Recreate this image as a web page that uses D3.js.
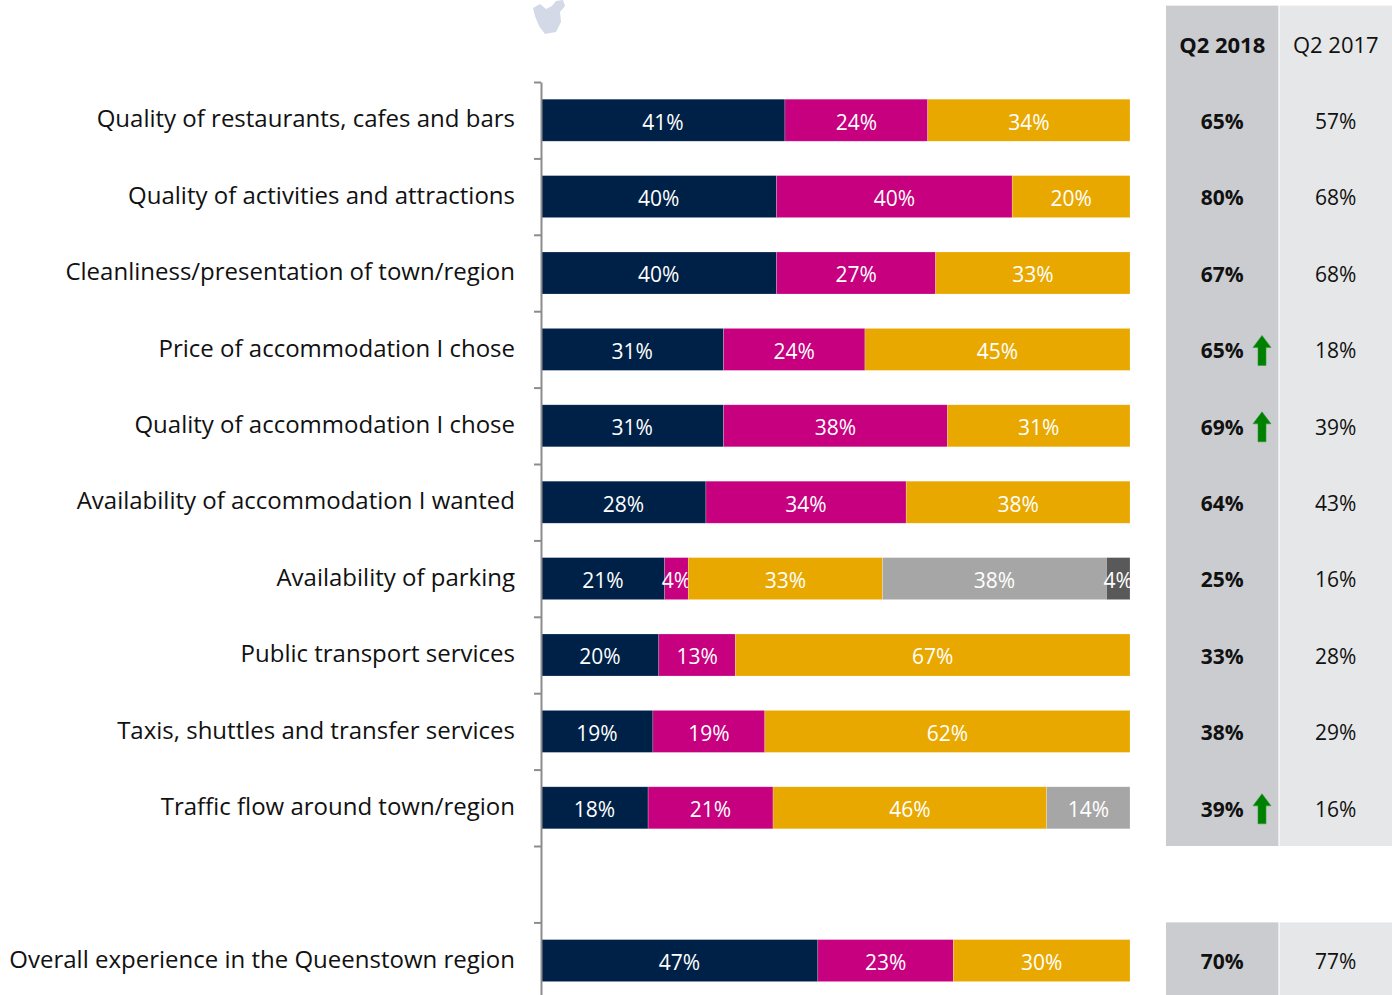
<!DOCTYPE html>
<html>
<head>
<meta charset="utf-8">
<script src="https://cdn.jsdelivr.net/npm/d3@7"></script>
<style>
  body { margin: 0; background: #fff; }
  svg text { font-family: "Open Sans", "Noto Sans", sans-serif; }
</style>
</head>
<body>
<div id="chart"></div>
<script>
// row labels (blank row is the gap before the overall score)
var categories = [
  "Quality of restaurants, cafes and bars",
  "Quality of activities and attractions",
  "Cleanliness/presentation of town/region",
  "Price of accommodation I chose",
  "Quality of accommodation I chose",
  "Availability of accommodation I wanted",
  "Availability of parking",
  "Public transport services",
  "Taxis, shuttles and transfer services",
  "Traffic flow around town/region",
  "",
  "Overall experience in the Queenstown region"
]

// stacked segments, left to right (null = blank row)
var seg1 = [41, 40, 40, 31, 31, 28, 21, 20, 19, 18, null, 47]
var seg2 = [24, 40, 27, 24, 38, 34, 4, 13, 19, 21, null, 23]
var seg3 = [34, 20, 33, 45, 31, 38, 33, 67, 62, 46, null, 30]
var seg4 = [0, 0, 0, 0, 0, 0, 38, 0, 0, 14, null, 0]
var seg5 = [0, 0, 0, 0, 0, 0, 4, 0, 0, 0, null, 0]

var periods = ["Q2 2018", "Q2 2017"]
var q2018 = [65, 80, 67, 65, 69, 64, 25, 33, 38, 39, null, 70]
var q2017 = [57, 68, 68, 18, 39, 43, 16, 28, 29, 16, null, 77]
var upArrow = [false, false, false, true, true, false, false, false, false, true, null, false]

var segColors = ["#002147", "#c6007e", "#e8a800", "#a6a6a6", "#595959"]

var W = 1392, H = 995

var svg = d3.select('#chart').append('svg')
  .attr('width', W).attr('height', H)

var keys = ["s1", "s2", "s3", "s4", "s5"]
var rows = categories.map(function(c, i) {
  return {id: i, name: c, s1: seg1[i] || 0, s2: seg2[i] || 0, s3: seg3[i] || 0, s4: seg4[i] || 0, s5: seg5[i] || 0, blank: seg1[i] == null}
})

var topY = 82, step = 76.4
var y = d3.scaleBand()
  .domain(rows.map(function(d) { return d.id; }))
  .range([topY, topY + step * rows.length])
  .paddingInner(0.45)
  .paddingOuter(0.225)

var x = d3.scaleLinear().domain([0, 1]).range([541, 1130])

// background panels for the comparison columns
var colX = d3.scaleBand().domain(periods).range([1166, 1392]).paddingInner(0.01)
var panelFill = ["#cbccd0", "#e6e7e8"]
periods.forEach(function(p, j) {
  svg.append('rect')
    .attr('x', colX(p)).attr('width', colX.bandwidth())
    .attr('y', topY - step).attr('height', step * 11)
    .attr('fill', panelFill[j])
  svg.append('rect')
    .attr('x', colX(p)).attr('width', colX.bandwidth())
    .attr('y', topY + step * 11).attr('height', H - (topY + step * 11))
    .attr('fill', panelFill[j])
  svg.append('text')
    .attr('x', colX(p) + colX.bandwidth() / 2)
    .attr('y', topY - step / 2)
    .attr('dy', '.4em')
    .attr('text-anchor', 'middle')
    .attr('font-size', 22)
    .attr('font-weight', j == 0 ? 'bold' : 'normal')
    .attr('fill', '#111')
    .text(p)
})

// faint logo fragment at the top
svg.append('path')
  .attr('d', 'M533,8 L540,4 L546,9 L552,6 L556,1 L563,0 L565,6 L560,12 L561,22 L556,32 L545,34 L539,26 L535,16 Z')
  .attr('fill', '#d3d9e6')

// stacked bars
var stack = d3.stack().keys(keys).offset(d3.stackOffsetExpand)
var series = stack(rows.filter(function(d) { return !d.blank; }))

var layer = svg.selectAll('.layer')
  .data(series)
  .enter().append('g')
  .attr('class', 'layer')
  .attr('fill', function(d, i) { return segColors[i]; })

layer.selectAll('rect')
  .data(function(d) { return d; })
  .enter().append('rect')
  .attr('x', function(d) { return x(d[0]); })
  .attr('width', function(d) { return x(d[1]) - x(d[0]); })
  .attr('y', function(d) { return y(d.data.id); })
  .attr('height', y.bandwidth())
  .attr('stroke', '#ffffff')
  .attr('stroke-opacity', 0.35)
  .attr('stroke-width', 0.6)

layer.selectAll('text')
  .data(function(d) { return d.filter(function(e) { return e.data[d.key] > 0; }).map(function(e) { e.key = d.key; return e; }); })
  .enter().append('text')
  .attr('x', function(d) { return (x(d[0]) + x(d[1])) / 2; })
  .attr('y', function(d) { return y(d.data.id) + y.bandwidth() / 2; })
  .attr('dy', '.45em')
  .attr('text-anchor', 'middle')
  .attr('font-size', 21)
  .attr('fill', '#fff')
  .text(function(d) { return d.data[d.key] + '%'; })

// axis with ticks on band boundaries
var yb = d3.scaleLinear().domain([0, rows.length]).range([topY, topY + step * rows.length])
svg.append('g')
  .attr('transform', 'translate(541,0)')
  .call(d3.axisLeft(yb).tickValues(d3.range(rows.length + 1)).tickFormat('').tickSize(7).tickSizeOuter(0))
  .call(function(g) {
    g.select('.domain').attr('stroke', '#8c8c8c').attr('stroke-width', 2)
    g.selectAll('.tick line').attr('stroke', '#8c8c8c').attr('stroke-width', 2)
  })

// row labels
svg.selectAll('.cat')
  .data(rows.filter(function(d) { return !d.blank; }))
  .enter().append('text')
  .attr('class', 'cat')
  .attr('x', 515)
  .attr('y', function(d) { return y(d.id) + y.bandwidth() / 2; })
  .attr('dy', '.3em')
  .attr('text-anchor', 'end')
  .attr('font-size', 24)
  .attr('fill', '#111')
  .text(function(d) { return d.name; })

// comparison values
var vals = rows.filter(function(d) { return !d.blank; })
svg.selectAll('.v18')
  .data(vals)
  .enter().append('text')
  .attr('x', colX(periods[0]) + colX.bandwidth() / 2)
  .attr('y', function(d) { return y(d.id) + y.bandwidth() / 2; })
  .attr('dy', '.42em')
  .attr('text-anchor', 'middle')
  .attr('font-size', 21)
  .attr('font-weight', 'bold')
  .attr('fill', '#111')
  .text(function(d) { return q2018[d.id] + '%'; })

svg.selectAll('.v17')
  .data(vals)
  .enter().append('text')
  .attr('x', colX(periods[1]) + colX.bandwidth() / 2)
  .attr('y', function(d) { return y(d.id) + y.bandwidth() / 2; })
  .attr('dy', '.42em')
  .attr('text-anchor', 'middle')
  .attr('font-size', 21)
  .attr('fill', '#111')
  .text(function(d) { return q2017[d.id] + '%'; })

// green up arrows for significant increases
svg.selectAll('.arrow')
  .data(vals.filter(function(d) { return upArrow[d.id]; }))
  .enter().append('path')
  .attr('transform', function(d) { return 'translate(1262,' + (y(d.id) + y.bandwidth() / 2 + 1) + ')'; })
  .attr('d', 'M0,-15 L9,-3 L4,-3 L4,15 L-4,15 L-4,-3 L-9,-3 Z')
  .attr('fill', '#008000')
  .attr('stroke', '#2e9b2e')
  .attr('stroke-width', 0.6)
</script>
</body>
</html>
